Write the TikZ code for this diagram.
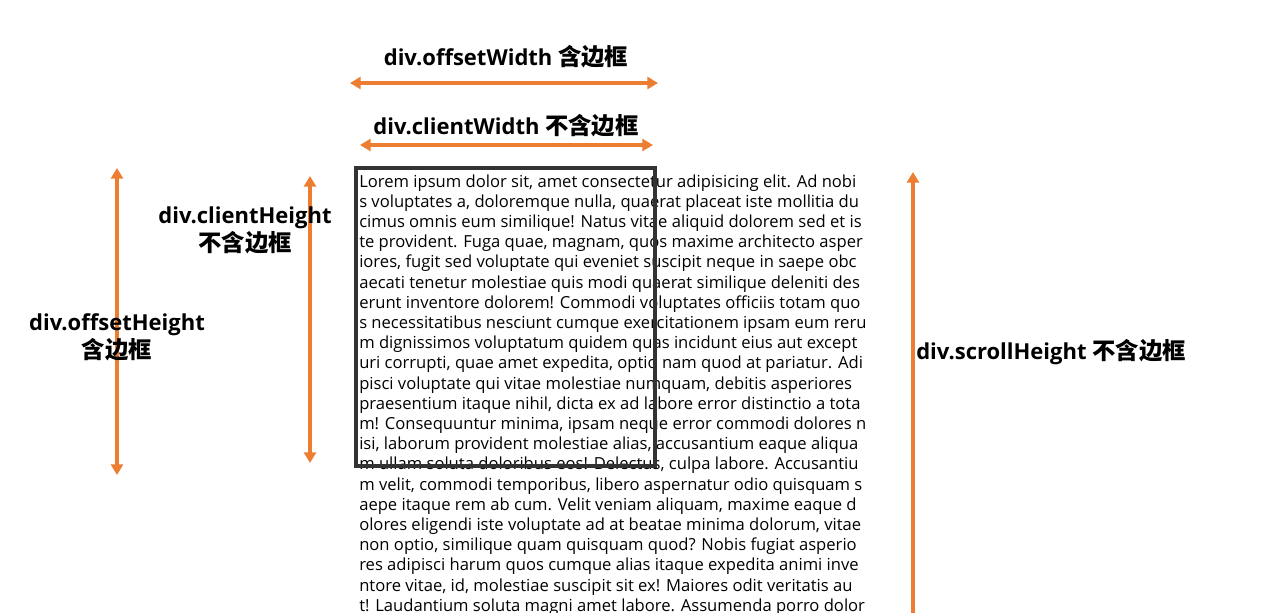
\documentclass[tikz,border=0pt]{standalone}
\usepackage{fontspec}
\setmainfont{Open Sans}
\newfontfamily\cjk{Noto Sans CJK SC}
\usetikzlibrary{arrows.meta}
\definecolor{arr}{HTML}{ED7D31}
\definecolor{bord}{HTML}{333333}
\newcommand{\zh}[1]{{\fontsize{17.5}{21}\selectfont\cjk #1}}
\begin{document}
\begin{tikzpicture}[x=0.75pt,y=-0.75pt,
  tip/.tip={Triangle[width=9pt,length=8pt]},
  dim/.style={draw=arr, line width=2.4pt, tip-tip},
  upone/.style={draw=arr, line width=2.4pt, -tip},
  lab/.style={font=\fontsize{16.5}{21}\selectfont\bfseries, text=black, inner sep=0pt, align=center},
  body/.style={font=\fontsize{12.45}{15}\selectfont, anchor=base west, inner sep=0pt, text=black}]
\useasboundingbox (0,0) rectangle (1280,612);
\clip (0,0) rectangle (1280,612);
% arrows
\coordinate (ow1) at (350,83);  \coordinate (ow2) at (658,83);
\coordinate (cw1) at (360,145); \coordinate (cw2) at (653,145);
\coordinate (oh1) at (117,168); \coordinate (oh2) at (117,475);
\coordinate (ch1) at (310,176); \coordinate (ch2) at (310,463);
\coordinate (sh1) at (913,640); \coordinate (sh2) at (913,172);
\draw[dim] (ow1) -- (ow2);
\draw[dim] (cw1) -- (cw2);
\draw[dim] (oh1) -- (oh2);
\draw[dim] (ch1) -- (ch2);
\draw[upone] (sh1) -- (sh2);
% labels
\node[lab] (low) at (506,57) {div.offsetWidth \zh{含边框}};
\node[lab] (lcw) at (506,126) {div.clientWidth \zh{不含边框}};
\node[lab] (lch) at (245,230) {div.clientHeight\\\zh{不含边框}};
\node[lab] (loh) at (117,337) {div.offsetHeight\\\zh{含边框}};
\node[lab, anchor=west] (lsh) at (916,352) {div.scrollHeight \zh{不含边框}};
% body text
\node[body] (t1) at (359,187.0) {Lorem ipsum dolor sit, amet consectetur adipisicing elit. Ad nobi};
\node[body] (t2) at (359,207.2) {s voluptates a, doloremque nulla, quaerat placeat iste mollitia du};
\node[body] (t3) at (359,227.4) {cimus omnis eum similique! Natus vitae aliquid dolorem sed et is};
\node[body] (t4) at (359,247.6) {te provident. Fuga quae, magnam, quos maxime architecto asper};
\node[body] (t5) at (359,267.8) {iores, fugit sed voluptate qui eveniet suscipit neque in saepe obc};
\node[body] (t6) at (359,288.0) {aecati tenetur molestiae quis modi quaerat similique deleniti des};
\node[body] (t7) at (359,308.2) {erunt inventore dolorem! Commodi voluptates officiis totam quo};
\node[body] (t8) at (359,328.4) {s necessitatibus nesciunt cumque exercitationem ipsam eum reru};
\node[body] (t9) at (359,348.6) {m dignissimos voluptatum quidem quas incidunt eius aut except};
\node[body] (t10) at (359,368.8) {uri corrupti, quae amet expedita, optio nam quod at pariatur. Adi};
\node[body] (t11) at (359,389.0) {pisci voluptate qui vitae molestiae numquam, debitis asperiores};
\node[body] (t12) at (359,409.2) {praesentium itaque nihil, dicta ex ad labore error distinctio a tota};
\node[body] (t13) at (359,429.4) {m! Consequuntur minima, ipsam neque error commodi dolores n};
\node[body] (t14) at (359,449.6) {isi, laborum provident molestiae alias, accusantium eaque aliqua};
\node[body] (t15) at (359,469.8) {m ullam soluta doloribus eos! Delectus, culpa labore. Accusantiu};
\node[body] (t16) at (359,490.0) {m velit, commodi temporibus, libero aspernatur odio quisquam s};
\node[body] (t17) at (359,510.2) {aepe itaque rem ab cum. Velit veniam aliquam, maxime eaque d};
\node[body] (t18) at (359,530.4) {olores eligendi iste voluptate ad at beatae minima dolorum, vitae};
\node[body] (t19) at (359,550.6) {non optio, similique quam quisquam quod? Nobis fugiat asperio};
\node[body] (t20) at (359,570.8) {res adipisci harum quos cumque alias itaque expedita animi inve};
\node[body] (t21) at (359,591.0) {ntore vitae, id, molestiae suscipit sit ex! Maiores odit veritatis au};
\node[body] (t22) at (359,611.2) {t! Laudantium soluta magni amet labore. Assumenda porro dolor};
% box
\node[draw=bord, line width=3pt, inner sep=0pt, minimum width=299*0.75pt, minimum height=298*0.75pt] (box) at (505.5,317) {};
\end{tikzpicture}
\end{document}
